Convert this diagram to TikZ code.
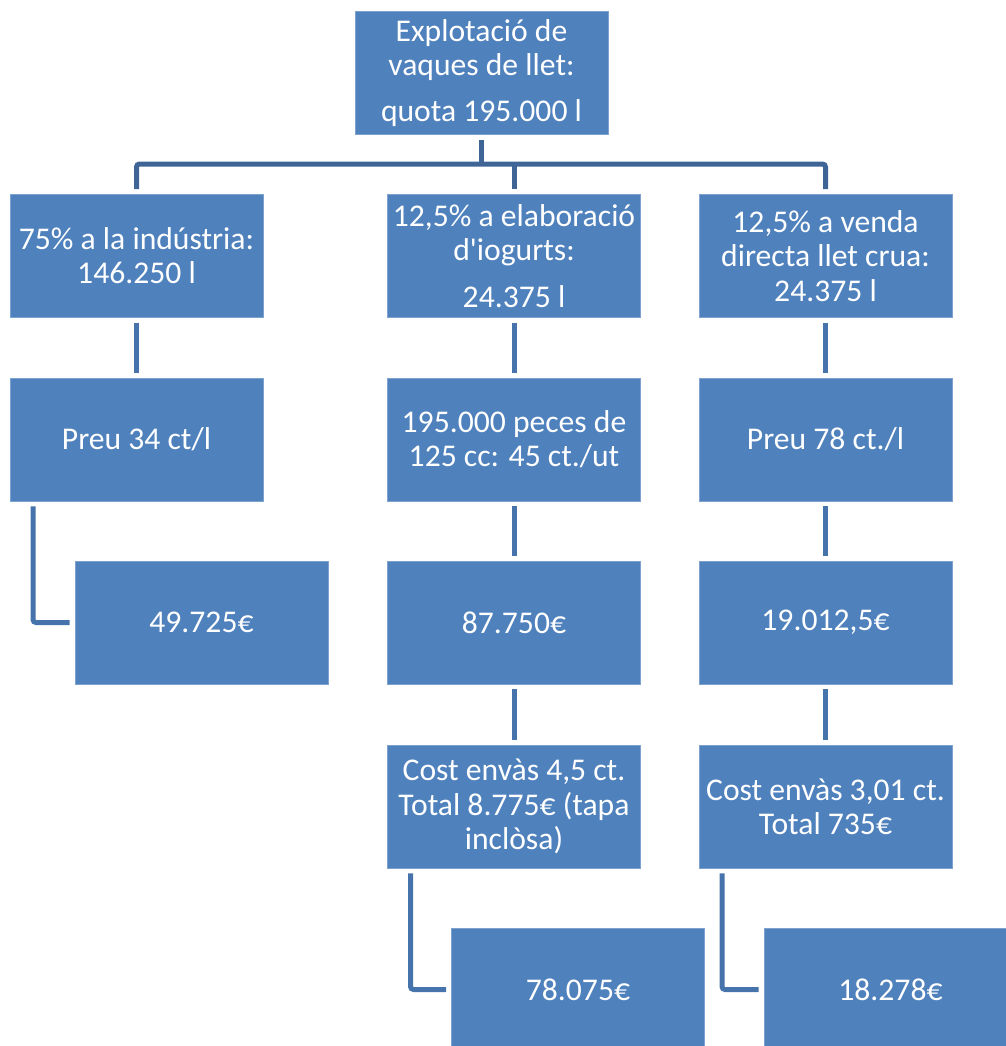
\documentclass[tikz,border=0pt]{standalone}
\usepackage{fontspec}
\setmainfont{Carlito}[Ligatures=TeXOff]
\definecolor{boxblue}{HTML}{4F81BD}
\definecolor{boxedge}{HTML}{7EA1CF}
\definecolor{treeblue}{HTML}{3E6596}
\definecolor{stepblue}{HTML}{4673AB}

\begin{document}
\begin{tikzpicture}[x=0.02cm, y=-0.02cm,
    box/.style={rectangle,
          draw = boxedge,
          line width = 0.4pt,
          fill = boxblue,
          text = white,
          minimum width = 5.06cm,
          minimum height = 2.46cm,
          inner sep = 0pt,
          outer sep = 0.11cm,
          align = center,
          font = \fontsize{18}{19.5}\selectfont},
    tree/.style={draw = treeblue, line width = 0.1cm, rounded corners = 0.06cm},
    link/.style={draw = stepblue, line width = 0.1cm, rounded corners = 0.06cm}]

    \useasboundingbox (0,0) rectangle (1006,1046);
    \clip (0,0) rectangle (1006,1046);

    \node[box] (root) at (481.5,73) {Explotació de\\vaques de llet:\\[7pt]quota 195.000 l};

    % first row
    \node[box] (ind) at (136.5,256) {75\% a la indústria:\\146.250 l};
    \node[box] (iog) at (514,256) {12,5\% a elaboració\\d'iogurts:\\[7pt]24.375 l};
    \node[box] (rvd) at (825.5,256) {12,5\% a venda\\directa llet crua:\\24.375 l};

    % prices
    \node[box] (pr1) at (136.5,439.5) {Preu 34 ct/l};
    \node[box] (pr2) at (514,439.5) {195.000 peces de\\125 cc: 45 ct./ut};
    \node[box] (pr3) at (825.5,439.5) {Preu 78 ct./l};

    % totals
    \node[box] (tot1) at (201.5,622.5) {49.725€};
    \node[box] (tot2) at (514,622.5) {87.750€};
    \node[box] (tot3) at (825.5,622.5) {19.012,5€};

    % packaging
    \node[box] (cost2) at (514,806.5) {Cost envàs 4,5 ct.\\Total 8.775€ (tapa\\inclòsa)};
    \node[box] (cost3) at (825.5,806.5) {Cost envàs 3,01 ct.\\Total 735€};

    \node[box] (net2) at (578,989.5) {78.075€};
    \node[box] (net3) at (890.5,989.5) {18.278€};

    %tree from the farm
    \coordinate (fork) at (481.5,164);
    \draw[tree] (root) -- (fork);
    \draw[tree] (ind) |- (fork) -| (rvd);
    \draw[tree] (iog) -- (iog |- fork);

    \path[every edge/.style={link}]
    (ind) edge (pr1)
    (iog) edge (pr2)
    (rvd) edge (pr3)
    (pr2) edge (tot2)
    (pr3) edge (tot3)
    (tot2) edge (cost2)
    (tot3) edge (cost3);

    %elbows
    \draw[link] ([xshift=0.57cm]pr1.south west) |- (tot1);
    \draw[link] ([xshift=0.57cm]cost2.south west) |- (net2);
    \draw[link] ([xshift=0.57cm]cost3.south west) |- (net3);

\end{tikzpicture}
\end{document}
